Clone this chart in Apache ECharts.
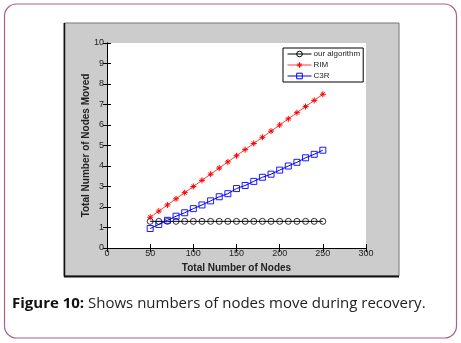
<!DOCTYPE html>
<html><head><meta charset="utf-8">
<script src="https://cdn.jsdelivr.net/npm/echarts@6/dist/echarts.min.js"></script>
<style>html,body{margin:0;padding:0;background:#fff}#c{width:461px;height:343px}</style>
</head><body><div id="c"></div>
<script>
var nodes = [50,60,70,80,90,100,110,120,130,140,150,160,170,180,190,200,210,220,230,240,250];
var ourAlgorithm = [1.3,1.3,1.3,1.3,1.3,1.3,1.3,1.3,1.3,1.3,1.3,1.3,1.3,1.3,1.3,1.3,1.3,1.3,1.3,1.3,1.3];
var rim = [1.5,1.8,2.1,2.4,2.7,3.0,3.3,3.6,3.9,4.2,4.5,4.8,5.1,5.4,5.7,6.0,6.3,6.6,6.9,7.2,7.5];
var c3r = [0.95,1.15,1.35,1.55,1.72,1.92,2.1,2.3,2.5,2.65,2.9,3.05,3.25,3.45,3.6,3.8,4.0,4.18,4.4,4.57,4.77];
var seriesNames = ['our algorithm','RIM','C3R'];
var xTicks = {min:0,max:300,interval:50};
var yTicks = {min:0,max:10,interval:1};
var caption = ['Figure 10:',' Shows numbers of nodes move during recovery.'];

function pairs(ys){return nodes.map(function(x,i){return [x,ys[i]];});}
var star = 'path://M0,5L10,5M5,0L5,10M1.8,1.8L8.2,8.2M1.8,8.2L8.2,1.8';
var chart = echarts.init(document.getElementById('c'),null,{renderer:'canvas'});
var lab = {color:'#222',fontSize:9,fontFamily:'Liberation Sans'};
chart.setOption({
  animation:false,
  backgroundColor:'#fff',
  graphic:[
    {type:'rect',z:-10,shape:{x:4.5,y:4,width:452,height:334,r:12},style:{fill:'#fff',stroke:'#a8618f',lineWidth:1.2}},
    {type:'rect',z:-9,shape:{x:64,y:23,width:335,height:253},style:{fill:'#cccccc',stroke:'#777',lineWidth:1}},
    {type:'line',z:-8,shape:{x1:64.5,y1:23,x2:64.5,y2:277},style:{stroke:'#111',lineWidth:1.5}},
    {type:'line',z:-8,shape:{x1:64,y1:276.5,x2:399,y2:276.5},style:{stroke:'#111',lineWidth:2}},
    {type:'rect',z:-7,shape:{x:107,y:43,width:259,height:205},style:{fill:'#fff'}},
    {type:'text',left:12,top:296,style:{text:'{b|'+caption[0]+'}{n|'+caption[1]+'}',rich:{
      b:{fontFamily:'Open Sans',fontWeight:'bold',fontSize:15,fill:'#111'},
      n:{fontFamily:'Open Sans',fontSize:15,fill:'#222'}}}}
  ],
  grid:{left:107,right:95,top:43,bottom:95,show:false},
  legend:{
    data:seriesNames,
    orient:'vertical',left:283,top:48,
    backgroundColor:'#fff',borderColor:'#000',borderWidth:1,borderRadius:0,
    padding:[2,3,2,4],itemGap:3,itemWidth:24,itemHeight:7,
    lineStyle:{width:1},itemStyle:{borderWidth:1},
    textStyle:{fontSize:8,color:'#222',fontFamily:'Liberation Sans',padding:[0,0,0,-3]}
  },
  xAxis:[{
    type:'value',min:xTicks.min,max:xTicks.max,interval:xTicks.interval,
    name:'Total Number of Nodes',nameLocation:'middle',nameGap:15,nameMoveOverlap:false,
    nameTextStyle:{fontWeight:'bold',fontSize:10,color:'#222',fontFamily:'Liberation Sans'},
    axisLine:{lineStyle:{color:'#000'}},axisTick:{inside:true,length:4,lineStyle:{color:'#000'}},
    axisLabel:Object.assign({margin:1},lab),splitLine:{show:false}
  },{
    type:'value',position:'top',min:xTicks.min,max:xTicks.max,interval:xTicks.interval,
    axisLine:{show:true,lineStyle:{color:'#000'}},axisTick:{inside:true,length:4,lineStyle:{color:'#000'}},
    axisLabel:{show:false},splitLine:{show:false}
  }],
  yAxis:[{
    type:'value',min:yTicks.min,max:yTicks.max,interval:yTicks.interval,
    name:'Total Number of Nodes Moved',nameLocation:'middle',nameGap:16,nameMoveOverlap:false,
    nameTextStyle:{fontWeight:'bold',fontSize:10,color:'#222',fontFamily:'Liberation Sans'},
    axisLine:{show:true,lineStyle:{color:'#000'}},axisTick:{show:true,inside:true,length:4,lineStyle:{color:'#000'}},
    axisLabel:Object.assign({margin:3},lab),splitLine:{show:false}
  },{
    type:'value',position:'right',min:yTicks.min,max:yTicks.max,interval:yTicks.interval,
    axisLine:{show:true,lineStyle:{color:'#000'}},axisTick:{show:true,inside:true,length:4,lineStyle:{color:'#000'}},
    axisLabel:{show:false},splitLine:{show:false}
  }],
  series:[
    {name:seriesNames[0],type:'line',data:pairs(ourAlgorithm),symbol:'circle',symbolSize:6,
     lineStyle:{color:'#000',width:1},itemStyle:{color:'rgba(0,0,0,0)',borderColor:'#000',borderWidth:0.8}},
    {name:seriesNames[1],type:'line',data:pairs(rim),symbol:star,symbolSize:6,
     lineStyle:{color:'#ff4040',width:1},itemStyle:{color:'#ff0000',borderColor:'#ff0000',borderWidth:1}},
    {name:seriesNames[2],type:'line',data:pairs(c3r),symbol:'rect',symbolSize:6,
     lineStyle:{color:'#0000ff',width:1},itemStyle:{color:'rgba(0,0,255,0)',borderColor:'#0000ff',borderWidth:0.9}}
  ]
});
</script></body></html>
